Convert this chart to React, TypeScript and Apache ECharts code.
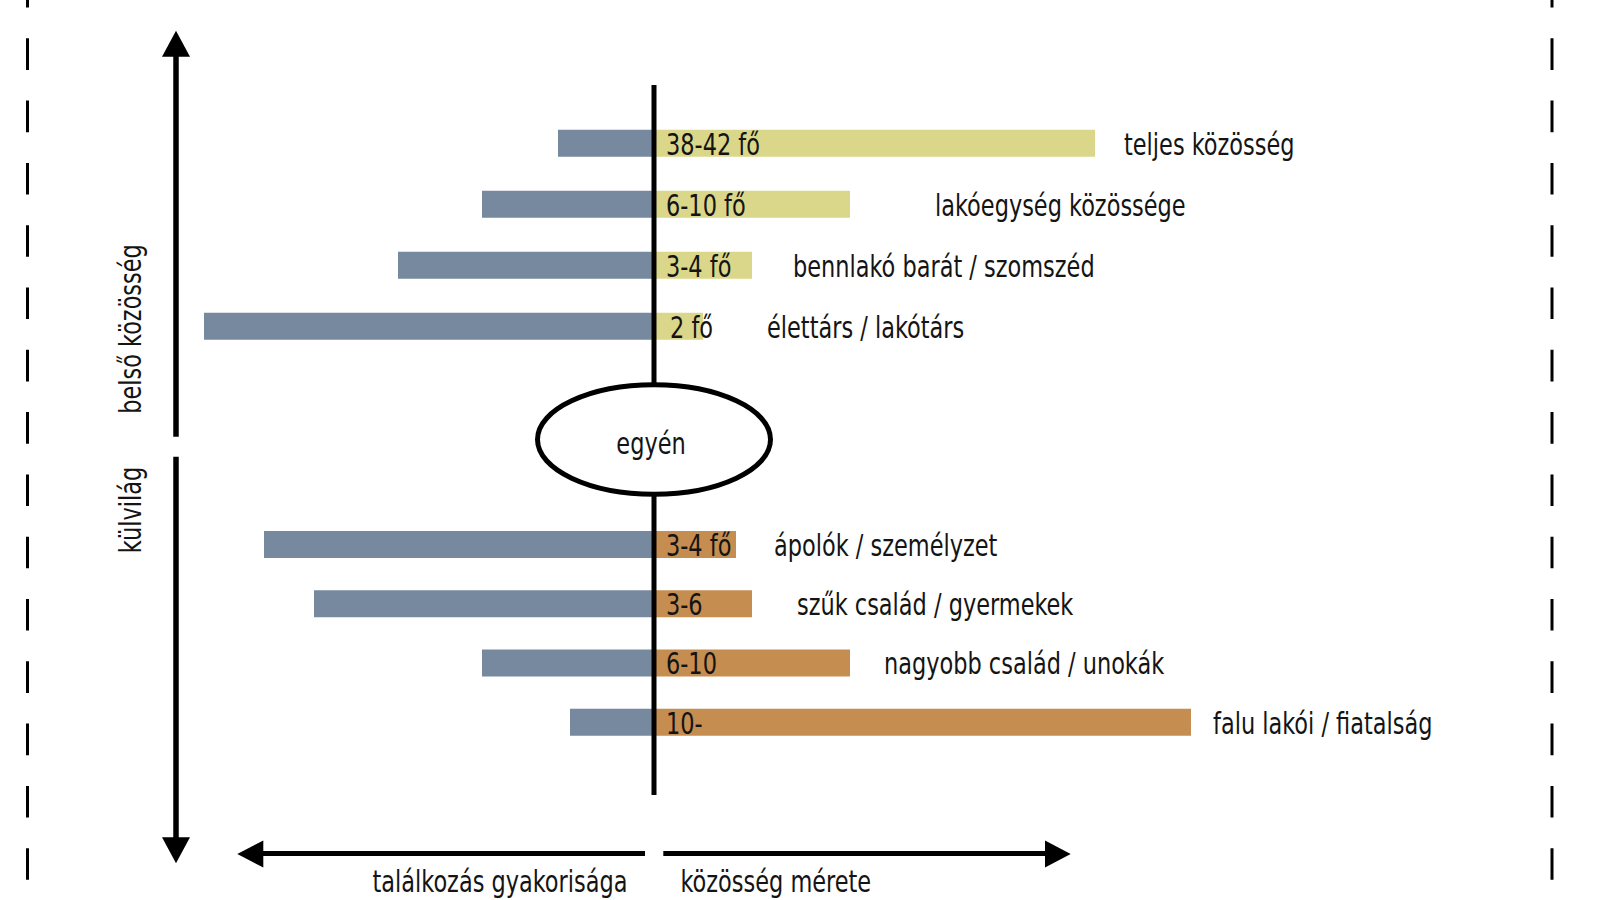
import React, { useEffect, useRef } from "react";
import * as echarts from "echarts";

// ---- data ----
const innerCategories = ["teljes közösség", "lakóegység közössége", "bennlakó barát / szomszéd", "élettárs / lakótárs"];
const innerFrequency = [9.6, 17.2, 25.6, 45.0];
const innerSize = [44.1, 19.6, 9.8, 4.9];
const innerSizeLabels = ["38-42 fő", "6-10 fő", "3-4 fő", "2 fő"];

const outerCategories = ["ápolók / személyzet", "szűk család / gyermekek", "nagyobb család / unokák", "falu lakói / fiatalság"];
const outerFrequency = [39.0, 34.0, 17.2, 8.4];
const outerSize = [8.2, 9.8, 19.6, 53.7];
const outerSizeLabels = ["3-4 fő", "3-6", "6-10", "10-"];

// ---- layout (label gaps after the bars, px) ----
const innerNameGaps = [29, 85, 41, 64];
const outerNameGaps = [38, 45, 34, 22];
const innerLabelDistances = [12, 12, 12, 16];
const outerLabelDistances = [12, 12, 12, 12];

const FONT = "'DejaVu Sans Condensed', 'Liberation Sans Narrow', sans-serif";
const SX = 0.832;
const BLUE = "#77899E";
const YELLOW = "#DBD78A";
const ORANGE = "#C68D50";
const TEXT = "#141414";

function txt(text: string, x: number, y: number, extra: any = {}, align = "left") {
  return {
    type: "text",
    x,
    y,
    scaleX: SX,
    ...extra,
    style: { text, fontFamily: FONT, fontSize: 30, fill: TEXT, align, verticalAlign: "middle" },
  };
}

function barSeries(idx: number, freq: number[], size: number[], color: string) {
  return [
    {
      type: "bar",
      xAxisIndex: idx,
      yAxisIndex: idx,
      barWidth: 27,
      barGap: "-100%",
      itemStyle: { color: BLUE },
      data: freq.map((v) => -v),
      silent: true,
    },
    {
      type: "bar",
      xAxisIndex: idx,
      yAxisIndex: idx,
      barWidth: 27,
      barGap: "-100%",
      itemStyle: { color },
      data: size,
      silent: true,
    },
  ];
}

function textSeries(idx: number, size: number[], sizeLabels: string[], names: string[], gaps: number[], dists: number[]) {
  return {
    type: "custom",
    xAxisIndex: idx,
    yAxisIndex: idx,
    silent: true,
    z: 5,
    data: size.map((v, i) => [v, names[i]]),
    encode: { x: 0, y: 1 },
    renderItem: (params: any, api: any) => {
      const i = params.dataIndex;
      const end = api.coord([api.value(0), api.value(1)]);
      const start = api.coord([0, api.value(1)]);
      return {
        type: "group",
        children: [
          txt(sizeLabels[i], start[0] + dists[i], start[1] + 1),
          txt(names[i], end[0] + gaps[i], end[1] + 1),
        ],
      };
    },
  };
}

export default function App() {
  const ref = useRef<HTMLDivElement>(null);
  useEffect(() => {
    if (!ref.current) return;
    const chart = echarts.init(ref.current, null, { renderer: "svg" });
    const lw = 5;
    const option: any = {
      animation: false,
      backgroundColor: "#fff",
      grid: [
        { left: 154, width: 1100, top: 112.8, height: 244 },
        { left: 154, width: 1100, top: 514.95, height: 236.9 },
      ],
      xAxis: [
        { type: "value", gridIndex: 0, min: -50, max: 60, show: false },
        { type: "value", gridIndex: 1, min: -50, max: 60, show: false },
      ],
      yAxis: [
        { type: "category", gridIndex: 0, data: innerCategories, inverse: true, show: false },
        { type: "category", gridIndex: 1, data: outerCategories, inverse: true, show: false },
      ],
      series: [
        ...barSeries(0, innerFrequency, innerSize, YELLOW),
        ...barSeries(1, outerFrequency, outerSize, ORANGE),
        textSeries(0, innerSize, innerSizeLabels, innerCategories, innerNameGaps, innerLabelDistances),
        textSeries(1, outerSize, outerSizeLabels, outerCategories, outerNameGaps, outerLabelDistances),
      ],
      graphic: [
        // dashed frame lines
        { type: "line", z: 10, shape: { x1: 27.5, y1: -24, x2: 27.5, y2: 900 }, style: { stroke: "#000", lineWidth: 3, lineDash: [31.6, 30.7] } },
        { type: "line", z: 10, shape: { x1: 1552, y1: -24, x2: 1552, y2: 900 }, style: { stroke: "#000", lineWidth: 3, lineDash: [31.6, 30.7] } },
        // center axis line
        { type: "line", z: 10, shape: { x1: 654, y1: 85, x2: 654, y2: 795 }, style: { stroke: "#000", lineWidth: lw } },
        // ellipse
        { type: "ellipse", z: 11, shape: { cx: 654, cy: 439.5, rx: 116.5, ry: 54.7 }, style: { fill: "#fff", stroke: "#000", lineWidth: lw } },
        { ...txt("egyén", 651, 444, { z: 12 }, "center") },
        // vertical arrow up
        { type: "line", z: 10, shape: { x1: 176, y1: 436.7, x2: 176, y2: 56 }, style: { stroke: "#000", lineWidth: 5.5 } },
        { type: "polygon", z: 10, shape: { points: [[162, 56.7], [190, 56.7], [176, 30.7]] }, style: { fill: "#000" } },
        // vertical arrow down
        { type: "line", z: 10, shape: { x1: 176, y1: 456.7, x2: 176, y2: 838 }, style: { stroke: "#000", lineWidth: 5.5 } },
        { type: "polygon", z: 10, shape: { points: [[162, 837.3], [190, 837.3], [176, 863.3]] }, style: { fill: "#000" } },
        // horizontal arrow left
        { type: "line", z: 10, shape: { x1: 645, y1: 853.5, x2: 263, y2: 853.5 }, style: { stroke: "#000", lineWidth: 5 } },
        { type: "polygon", z: 10, shape: { points: [[263.3, 840.5], [263.3, 867.5], [237.3, 854]] }, style: { fill: "#000" } },
        // horizontal arrow right
        { type: "line", z: 10, shape: { x1: 663.3, y1: 853.5, x2: 1046, y2: 853.5 }, style: { stroke: "#000", lineWidth: 5 } },
        { type: "polygon", z: 10, shape: { points: [[1045, 840.5], [1045, 867.5], [1070.7, 854]] }, style: { fill: "#000" } },
        // axis texts
        { ...txt("belső közösség", 130.5, 329, { z: 10, rotation: Math.PI / 2 }, "center") },
        { ...txt("külvilág", 130.5, 510, { z: 10, rotation: Math.PI / 2 }, "center") },
        { ...txt("találkozás gyakorisága", 500, 881.5, { z: 10 }, "center") },
        { ...txt("közösség mérete", 680.5, 881.5, { z: 10 }, "left") },
      ],
    };
    chart.setOption(option);
    return () => chart.dispose();
  }, []);
  return <div ref={ref} style={{ position: "fixed", left: 0, top: 0, width: 1607, height: 900 }} />;
}
